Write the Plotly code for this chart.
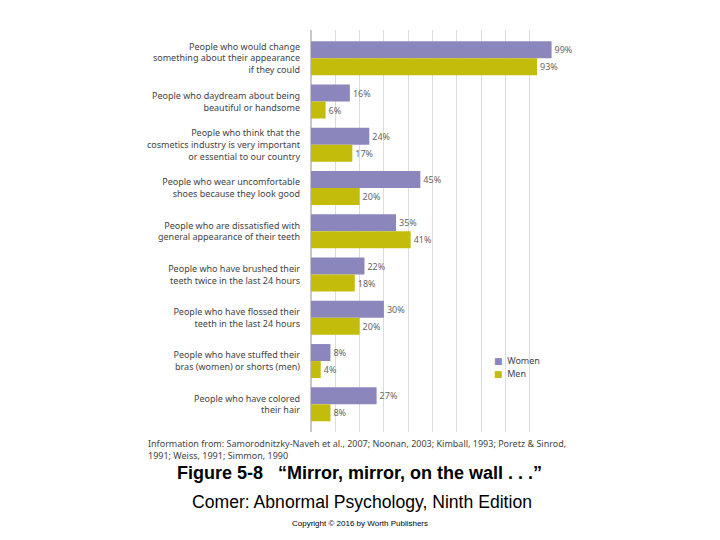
import plotly.graph_objects as go

categories = [
    "People who would change<br>something about their appearance<br>if they could",
    "People who daydream about being<br>beautiful or handsome",
    "People who think that the<br>cosmetics industry is very important<br>or essential to our country",
    "People who wear uncomfortable<br>shoes because they look good",
    "People who are dissatisfied with<br>general appearance of their teeth",
    "People who have brushed their<br>teeth twice in the last 24 hours",
    "People who have flossed their<br>teeth in the last 24 hours",
    "People who have stuffed their<br>bras (women) or shorts (men)",
    "People who have colored<br>their hair",
]
women = [99, 16, 24, 45, 35, 22, 30, 8, 27]
men = [93, 6, 17, 20, 41, 18, 20, 4, 8]
series_names = ["Women", "Men"]
colors = ["#8b86bb", "#c3bc0a"]

# page body has an 8px margin; work in screen coordinates and compensate
OFF = 8
W, H = 720 - OFF, 540 - OFF
L, R, T, B = 311, 554, 30, 432  # plot area in screen pixels

def px(x):
    return (x - L) / (R - L)

def py(y):
    return (B - y) / (B - T)

label_font = dict(family="Noto Sans, Open Sans, sans-serif", size=9, color="#444")
val_font = dict(family="Noto Sans, Open Sans, sans-serif", size=9, color="#666")

fig = go.Figure()
for name, vals, col in zip(series_names, [women, men], colors):
    fig.add_trace(go.Bar(
        name=name, y=categories, x=vals, orientation="h",
        marker=dict(color=col, line=dict(width=0)),
        text=[f"{v}%" for v in vals], textposition="outside",
        textfont=val_font, cliponaxis=False, showlegend=False,
    ))

fig.update_layout(
    width=W, height=H,
    margin=dict(l=L - OFF, r=W - (R - OFF), t=T - OFF, b=H - (B - OFF),
                autoexpand=False),
    paper_bgcolor="white", plot_bgcolor="white",
    barmode="group", bargap=0.214, bargroupgap=0,
    showlegend=False,
    xaxis=dict(range=[0, 100], dtick=10, showgrid=True, gridcolor="#dcdcdc",
               gridwidth=1, showticklabels=False, zeroline=True,
               zerolinecolor="#c8c8c8", showline=False, ticks="",
               automargin=False),
    yaxis=dict(type="category", range=[8.64, -0.654], showgrid=False,
               tickfont=label_font, ticks="", ticklabelstandoff=10,
               showline=False, automargin=False),
)

anns = []
# legend drawn as text swatches
for i, (name, col) in enumerate(zip(series_names, colors)):
    anns.append(dict(
        text=f"<span style='color:{col}'>■</span>  {name}",
        x=px(492), y=py(360.5 + 13 * i), xanchor="left", yanchor="middle",
        font=dict(family="Noto Sans, DejaVu Sans, sans-serif", size=9, color="#444")))

anns += [
    dict(text="Information from: Samorodnitzky-Naveh et al., 2007; Noonan, 2003; Kimball, 1993; Poretz & Sinrod,<br>1991; Weiss, 1991; Simmon, 1990",
         x=px(146), y=py(435), xanchor="left", yanchor="top", align="left",
         font=dict(family="Noto Sans, sans-serif", size=9, color="#444")),
    dict(text="<b>Figure 5-8   “Mirror, mirror, on the wall . . .”</b>",
         x=px(359), y=py(472.5), xanchor="center", yanchor="middle",
         font=dict(family="Liberation Sans, Arial, sans-serif", size=18, color="black")),
    dict(text="Comer: Abnormal Psychology, Ninth Edition",
         x=px(362), y=py(501.5), xanchor="center", yanchor="middle",
         font=dict(family="Liberation Sans, Arial, sans-serif", size=17.6, color="black")),
    dict(text="Copyright © 2016 by Worth Publishers",
         x=px(360), y=py(523.5), xanchor="center", yanchor="middle",
         font=dict(family="Liberation Sans, Arial, sans-serif", size=8, color="black")),
]
for a in anns:
    a.update(xref="paper", yref="paper", showarrow=False)
    fig.add_annotation(**a)

fig.write_html("out.html")
